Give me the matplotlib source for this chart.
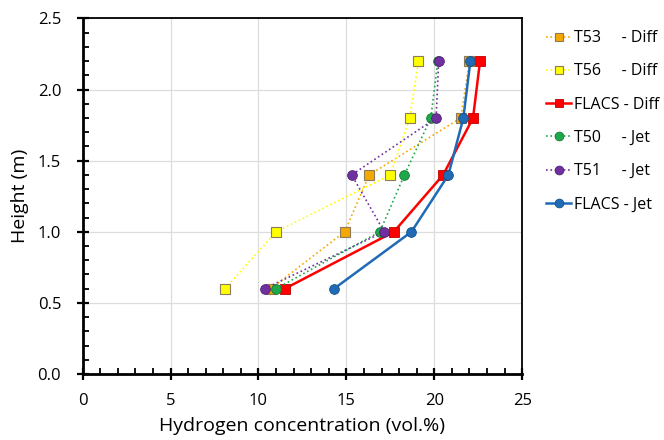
import numpy as np
import matplotlib.pyplot as plt
from matplotlib.ticker import MultipleLocator

plt.rcParams['font.family'] = ['Open Sans', 'DejaVu Sans']

# heights of the sampling points (m)
height = [0.6, 1.0, 1.4, 1.8, 2.2]

# hydrogen concentration (vol.%) per series
t53_diff = [10.7, 14.9, 16.3, 21.5, 22.0]
t56_diff = [8.1, 11.0, 17.5, 18.6, 19.1]
flacs_diff = [11.5, 17.7, 20.5, 22.2, 22.6]
t50_jet = [11.0, 16.9, 18.3, 19.8, 20.2]
t51_jet = [10.35, 17.15, 15.3, 20.1, 20.25]
flacs_jet = [14.3, 18.7, 20.8, 21.65, 22.05]

labels = ['T53     - Diff', 'T56     - Diff', 'FLACS - Diff',
          'T50     - Jet', 'T51     - Jet', 'FLACS - Jet']

fig = plt.figure(figsize=(6.64, 4.4), dpi=100)
ax = fig.add_axes([0.1245, 0.15, 0.662, 0.808])

edge = '#8c7b5a'
ax.plot(t53_diff, height, ':', color='#f5a800', lw=1.2, marker='s', ms=6.5,
        mfc='#f5a800', mec=edge, mew=0.8, label=labels[0])
ax.plot(t56_diff, height, ':', color='#ffff00', lw=1.2, marker='s', ms=6.5,
        mfc='#ffff00', mec=edge, mew=0.8, label=labels[1])
ax.plot(flacs_diff, height, '-', color='#ff0000', lw=1.8, marker='s', ms=6.5,
        mfc='#ff0000', mec='#c00000', mew=0.6, label=labels[2])
ax.plot(t50_jet, height, ':', color='#1ea84a', lw=1.2, marker='o', ms=7,
        mfc='#1ea84a', mec='#137a33', mew=0.6, label=labels[3])
ax.plot(t51_jet, height, ':', color='#7030a0', lw=1.2, marker='o', ms=7,
        mfc='#7030a0', mec='#4f1f75', mew=0.6, label=labels[4])
ax.plot(flacs_jet, height, '-', color='#1f6bb5', lw=1.8, marker='o', ms=7,
        mfc='#1f6bb5', mec='#15508a', mew=0.6, label=labels[5])

ax.set_xlim(0, 25)
ax.set_ylim(0, 2.5)
ax.xaxis.set_major_locator(MultipleLocator(5))
ax.xaxis.set_minor_locator(MultipleLocator(1))
ax.yaxis.set_major_locator(MultipleLocator(0.5))
ax.yaxis.set_minor_locator(MultipleLocator(0.1))
ax.yaxis.set_major_formatter(plt.FuncFormatter(lambda v, p: '%.1f' % v))
ax.grid(True, which='major', color='#dddddd', lw=0.9)
ax.set_axisbelow(True)

for s in ['left', 'bottom']:
    ax.spines[s].set_linewidth(2.0)
for s in ['top', 'right']:
    ax.spines[s].set_linewidth(1.3)
ax.tick_params(which='major', direction='inout', length=9, width=1.6,
               labelsize=12)
ax.tick_params(axis='x', which='major', pad=9)
ax.tick_params(axis='y', which='major', pad=11)
ax.tick_params(which='minor', direction='in', length=4.5, width=1.3)

ax.set_xlabel('Hydrogen concentration (vol.%)', fontsize=14, labelpad=6)
ax.set_ylabel('Height (m)', fontsize=14, labelpad=6)

ax.legend(loc='upper left', bbox_to_anchor=(1.04, 0.985), frameon=False,
          fontsize=11.5, handlelength=1.55, handletextpad=0.2,
          labelspacing=1.08, borderaxespad=0, markerscale=0.9)

fig.savefig('out.png', dpi=100)
